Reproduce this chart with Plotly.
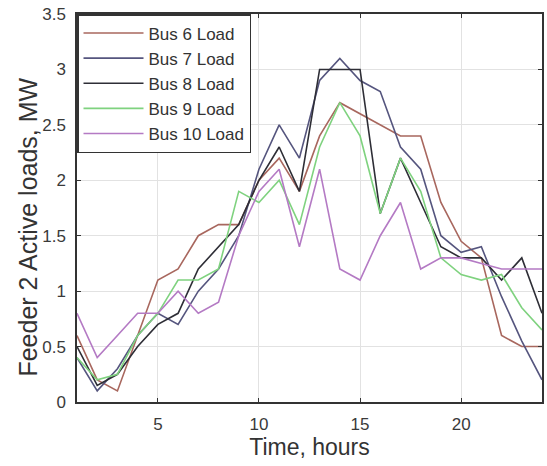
import plotly.graph_objects as go

hours = list(range(1, 25))
bus6 = [0.6, 0.2, 0.1, 0.6, 1.1, 1.2, 1.5, 1.6, 1.6, 2.0, 2.2, 1.9, 2.4, 2.7, 2.6, 2.5, 2.4, 2.4, 1.8, 1.45, 1.3, 0.6, 0.5, 0.5]
bus7 = [0.4, 0.1, 0.3, 0.6, 0.8, 0.7, 1.0, 1.2, 1.5, 2.1, 2.5, 2.2, 2.9, 3.1, 2.9, 2.8, 2.3, 2.1, 1.5, 1.35, 1.4, 0.95, 0.55, 0.2]
bus8 = [0.5, 0.15, 0.25, 0.5, 0.7, 0.8, 1.2, 1.4, 1.6, 2.0, 2.3, 1.9, 3.0, 3.0, 3.0, 1.7, 2.2, 1.8, 1.4, 1.3, 1.3, 1.1, 1.3, 0.8]
bus9 = [0.4, 0.2, 0.25, 0.6, 0.8, 1.1, 1.1, 1.2, 1.9, 1.8, 2.0, 1.6, 2.3, 2.7, 2.4, 1.7, 2.2, 1.9, 1.3, 1.15, 1.1, 1.15, 0.85, 0.65]
bus10 = [0.8, 0.4, 0.6, 0.8, 0.8, 1.0, 0.8, 0.9, 1.5, 1.9, 2.1, 1.4, 2.1, 1.2, 1.1, 1.5, 1.8, 1.2, 1.3, 1.3, 1.25, 1.2, 1.2, 1.2]

names = ["Bus 6 Load", "Bus 7 Load", "Bus 8 Load", "Bus 9 Load", "Bus 10 Load"]
series = [bus6, bus7, bus8, bus9, bus10]
colors = ["#a8675e", "#55557e", "#2e2e36", "#7fd27f", "#b47ac4"]

x_ticks = [5, 10, 15, 20]
y_ticks = [0, 0.5, 1, 1.5, 2, 2.5, 3, 3.5]
y_tick_text = ["0", "0.5", "1", "1.5", "2", "2.5", "3", "3.5"]

x_title = "Time, hours"
y_title = "Feeder 2 Active loads, MW"

FONT = "Liberation Sans, Arial"

fig = go.Figure()
for n, s, c in zip(names, series, colors):
    fig.add_trace(go.Scatter(x=hours, y=s, mode="lines", name=n,
                             line=dict(color=c, width=1.6)))

axis_common = dict(showline=True, linecolor="#333333", linewidth=1.5, mirror="ticks",
                   ticks="inside", ticklen=4, tickcolor="#333333",
                   showgrid=True, gridcolor="#e2e2e2", gridwidth=1, zeroline=False,
                   ticklabelstandoff=6,
                   tickfont=dict(family=FONT, size=17, color="#3a3a3a"))

fig.update_xaxes(range=[1, 24], tickvals=x_ticks,
                 title=dict(text=x_title, font=dict(family=FONT, size=23, color="#333333"), standoff=4),
                 **axis_common)
fig.update_yaxes(range=[0, 3.5], tickvals=y_ticks, ticktext=y_tick_text,
                 **axis_common)

fig.add_annotation(text=y_title, textangle=-90, xref="paper", yref="paper",
                   x=-0.105, y=0.45, xanchor="center", yanchor="middle", showarrow=False,
                   font=dict(family=FONT, size=25, color="#333333"))

fig.update_layout(
    width=547, height=466,
    margin=dict(l=77, r=3, t=14, b=64),
    paper_bgcolor="white", plot_bgcolor="white",
    showlegend=True,
    legend=dict(x=0, y=1, xanchor="left", yanchor="top",
                bgcolor="white", bordercolor="#333333", borderwidth=1.5,
                font=dict(family=FONT, size=17, color="#333333"),
                tracegroupgap=0, itemwidth=60, entrywidth=165),
)

fig.write_html("out.html")
